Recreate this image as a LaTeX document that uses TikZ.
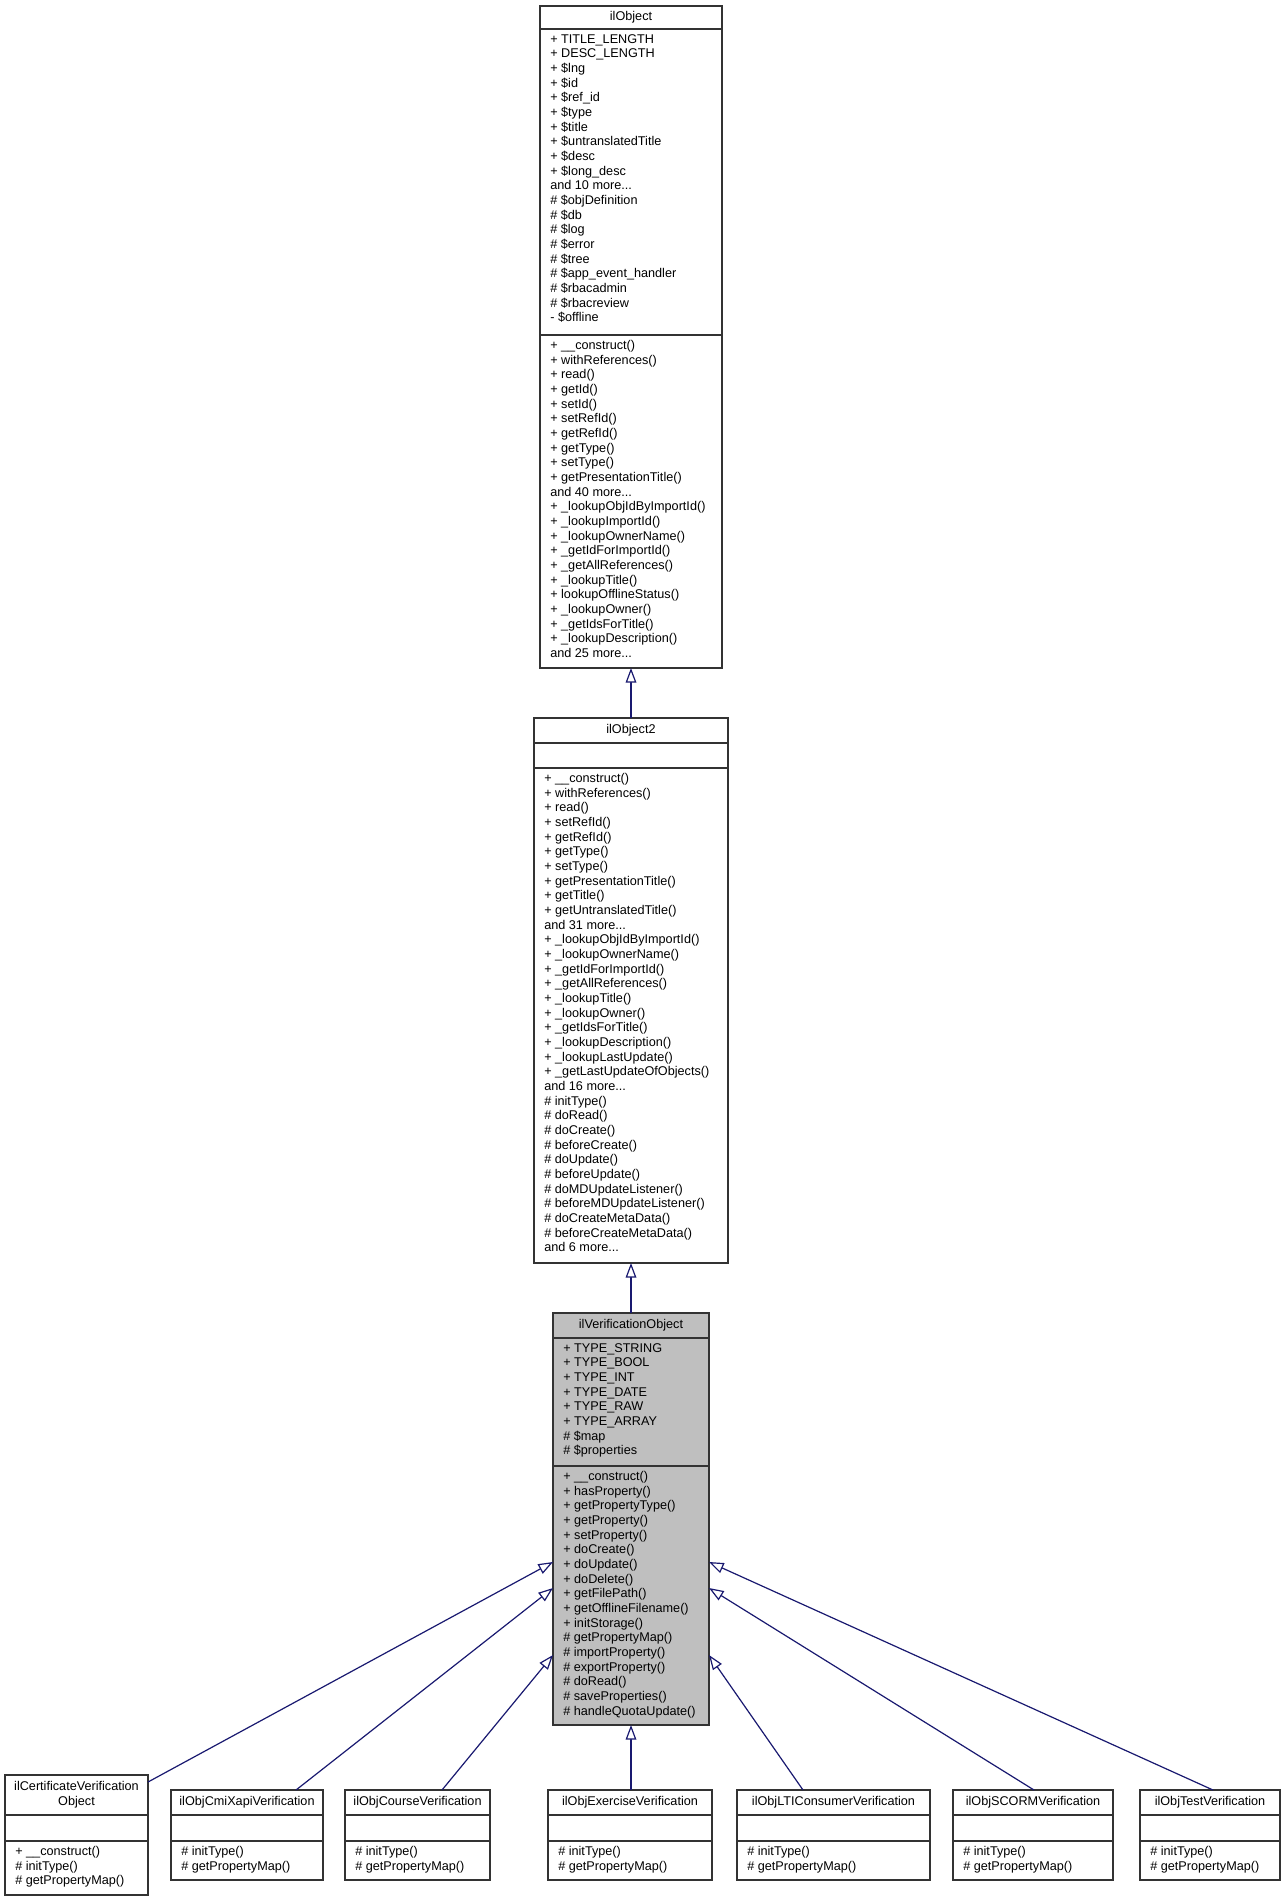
\documentclass[tikz,border=0pt]{standalone}
\usepackage{fontspec}
\setmainfont{Liberation Sans}
\usetikzlibrary{arrows.meta}
\definecolor{edgeblue}{HTML}{191970}
\definecolor{grayfill}{HTML}{BFBFBF}
\tikzset{
  boxline/.style={draw=black!80, line width=1.1pt},
  txt/.style={inner sep=0pt, align=left, anchor=north west, font=\fontsize{9.5pt}{11pt}\selectfont},
  ttl/.style={inner sep=0pt, align=center, font=\fontsize{9.5pt}{11pt}\selectfont},
  inh/.style={draw=edgeblue, line width=0.9pt, -{Triangle[open, length=11pt, width=8pt, fill=white]}}
}
% #1 name #2 x1 #3 x2 #4 top #5 d1 #6 d2 #7 bottom #8 fill #9 title
\newcommand{\umlbox}[9]{%
  \fill[#8] (#2,#4) rectangle (#3,#7);
  \draw[boxline] (#2,#4) rectangle (#3,#7);
  \draw[boxline] (#2,#5) -- (#3,#5);
  \draw[boxline] (#2,#6) -- (#3,#6);
  \node[ttl] (#1) at ({(#2+#3)/2},{(#4+#5)/2}) {#9};
  \coordinate (#1-a) at ({#2+10},{#5+5});
  \coordinate (#1-m) at ({#2+10},{#6+5});
}
\begin{document}
\begin{tikzpicture}[x=0.75pt,y=-0.75pt]
\useasboundingbox (0,0) rectangle (1285,1901);
\fill[white] (0,0) rectangle (1285,1901);

% ilObject
\umlbox{obj}{540}{722}{6}{29}{335}{668}{white}{ilObject}
\node[txt] at (obj-a) {+ TITLE\_LENGTH\\+ DESC\_LENGTH\\+ \$lng\\+ \$id\\+ \$ref\_id\\+ \$type\\+ \$title\\+ \$untranslatedTitle\\+ \$desc\\+ \$long\_desc\\and 10 more...\\\# \$objDefinition\\\# \$db\\\# \$log\\\# \$error\\\# \$tree\\\# \$app\_event\_handler\\\# \$rbacadmin\\\# \$rbacreview\\- \$offline};
\node[txt] at (obj-m) {+ \_\_construct()\\+ withReferences()\\+ read()\\+ getId()\\+ setId()\\+ setRefId()\\+ getRefId()\\+ getType()\\+ setType()\\+ getPresentationTitle()\\and 40 more...\\+ \_lookupObjIdByImportId()\\+ \_lookupImportId()\\+ \_lookupOwnerName()\\+ \_getIdForImportId()\\+ \_getAllReferences()\\+ \_lookupTitle()\\+ lookupOfflineStatus()\\+ \_lookupOwner()\\+ \_getIdsForTitle()\\+ \_lookupDescription()\\and 25 more...};

% ilObject2
\umlbox{obj2}{534}{728}{718}{743}{768}{1263}{white}{ilObject2}
\node[txt] at (obj2-m) {+ \_\_construct()\\+ withReferences()\\+ read()\\+ setRefId()\\+ getRefId()\\+ getType()\\+ setType()\\+ getPresentationTitle()\\+ getTitle()\\+ getUntranslatedTitle()\\and 31 more...\\+ \_lookupObjIdByImportId()\\+ \_lookupOwnerName()\\+ \_getIdForImportId()\\+ \_getAllReferences()\\+ \_lookupTitle()\\+ \_lookupOwner()\\+ \_getIdsForTitle()\\+ \_lookupDescription()\\+ \_lookupLastUpdate()\\+ \_getLastUpdateOfObjects()\\and 16 more...\\\# initType()\\\# doRead()\\\# doCreate()\\\# beforeCreate()\\\# doUpdate()\\\# beforeUpdate()\\\# doMDUpdateListener()\\\# beforeMDUpdateListener()\\\# doCreateMetaData()\\\# beforeCreateMetaData()\\and 6 more...};

% ilVerificationObject
\umlbox{vo}{553}{709}{1313}{1338}{1466}{1725}{grayfill}{ilVerificationObject}
\node[txt] at (vo-a) {+ TYPE\_STRING\\+ TYPE\_BOOL\\+ TYPE\_INT\\+ TYPE\_DATE\\+ TYPE\_RAW\\+ TYPE\_ARRAY\\\# \$map\\\# \$properties};
\node[txt] at (vo-m) {+ \_\_construct()\\+ hasProperty()\\+ getPropertyType()\\+ getProperty()\\+ setProperty()\\+ doCreate()\\+ doUpdate()\\+ doDelete()\\+ getFilePath()\\+ getOfflineFilename()\\+ initStorage()\\\# getPropertyMap()\\\# importProperty()\\\# exportProperty()\\\# doRead()\\\# saveProperties()\\\# handleQuotaUpdate()};

% children
\umlbox{cert}{5}{148}{1775}{1815}{1841}{1895}{white}{ilCertificateVerification\\Object}
\node[txt] at (cert-m) {+ \_\_construct()\\\# initType()\\\# getPropertyMap()};
\umlbox{cmi}{171}{323}{1790}{1815}{1841}{1880}{white}{ilObjCmiXapiVerification}
\node[txt] at (cmi-m) {\# initType()\\\# getPropertyMap()};
\umlbox{crs}{345}{490}{1790}{1815}{1841}{1880}{white}{ilObjCourseVerification}
\node[txt] at (crs-m) {\# initType()\\\# getPropertyMap()};
\umlbox{exc}{548}{712}{1790}{1815}{1841}{1880}{white}{ilObjExerciseVerification}
\node[txt] at (exc-m) {\# initType()\\\# getPropertyMap()};
\umlbox{lti}{737}{930}{1790}{1815}{1841}{1880}{white}{ilObjLTIConsumerVerification}
\node[txt] at (lti-m) {\# initType()\\\# getPropertyMap()};
\umlbox{scorm}{953}{1113}{1790}{1815}{1841}{1880}{white}{ilObjSCORMVerification}
\node[txt] at (scorm-m) {\# initType()\\\# getPropertyMap()};
\umlbox{tst}{1140}{1280}{1790}{1815}{1841}{1880}{white}{ilObjTestVerification}
\node[txt] at (tst-m) {\# initType()\\\# getPropertyMap()};

% edge endpoints
\coordinate (objB) at (631,668);
\coordinate (obj2T) at (631,718);
\coordinate (obj2B) at (631,1263);
\coordinate (voT) at (631,1313);
\coordinate (voB) at (631,1725);
\coordinate (voL1) at (553,1562);
\coordinate (voL2) at (553,1588);
\coordinate (voL3) at (553,1655);
\coordinate (voR1) at (709,1562);
\coordinate (voR2) at (709,1588);
\coordinate (voR3) at (709,1655);
\coordinate (certT) at (148,1782);
\coordinate (cmiT) at (296,1790);
\coordinate (crsT) at (442,1790);
\coordinate (excT) at (631,1790);
\coordinate (ltiT) at (803,1790);
\coordinate (scormT) at (1034,1790);
\coordinate (tstT) at (1213,1790);

\draw[inh] (obj2T) -- (objB);
\draw[inh] (voT) -- (obj2B);
\draw[inh] (certT) -- (voL1);
\draw[inh] (cmiT) -- (voL2);
\draw[inh] (crsT) -- (voL3);
\draw[inh] (excT) -- (voB);
\draw[inh] (ltiT) -- (voR3);
\draw[inh] (scormT) -- (voR2);
\draw[inh] (tstT) -- (voR1);
\end{tikzpicture}
\end{document}
